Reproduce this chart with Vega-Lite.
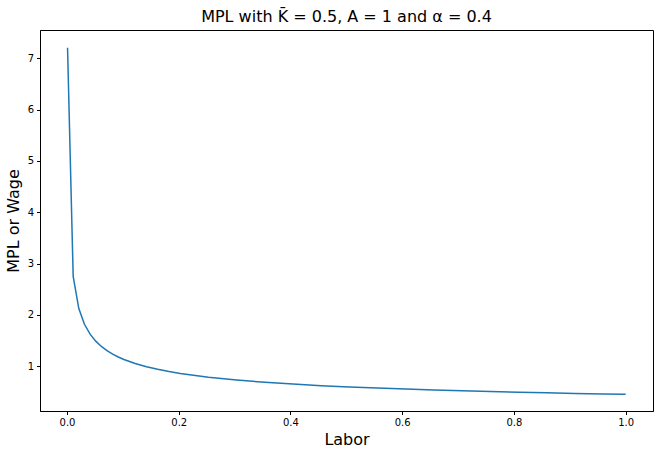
{
  "$schema": "https://vega.github.io/schema/vega-lite/v6.json",
  "autosize": "none",
  "width": 613,
  "height": 381,
  "padding": {"left": 40, "top": 30, "right": 7, "bottom": 43},
  "background": "white",
  "title": {
    "text": "MPL with K\u0304 = 0.5, A = 1 and α = 0.4",
    "fontSize": 16,
    "fontWeight": "normal",
    "font": "DejaVu Sans",
    "color": "black",
    "anchor": "middle",
    "offset": 5
  },
  "data": {
    "values": [
      {"labor": 0.001, "mpl": 7.2067},
      {"labor": 0.0110909, "mpl": 2.75265},
      {"labor": 0.0211818, "mpl": 2.12497},
      {"labor": 0.0312727, "mpl": 1.81833},
      {"labor": 0.0413636, "mpl": 1.62589},
      {"labor": 0.0514545, "mpl": 1.48995},
      {"labor": 0.0615455, "mpl": 1.38695},
      {"labor": 0.0716364, "mpl": 1.30523},
      {"labor": 0.0817273, "mpl": 1.23821},
      {"labor": 0.0918182, "mpl": 1.18186},
      {"labor": 0.1019091, "mpl": 1.13359},
      {"labor": 0.1220909, "mpl": 1.05455},
      {"labor": 0.1422727, "mpl": 0.99195},
      {"labor": 0.1624545, "mpl": 0.94069},
      {"labor": 0.1826364, "mpl": 0.89764},
      {"labor": 0.2028182, "mpl": 0.86079},
      {"labor": 0.2532727, "mpl": 0.7876},
      {"labor": 0.3037273, "mpl": 0.7324},
      {"labor": 0.3541818, "mpl": 0.68873},
      {"labor": 0.4046364, "mpl": 0.653},
      {"labor": 0.4550909, "mpl": 0.62302},
      {"labor": 0.5055455, "mpl": 0.59736},
      {"labor": 0.556, "mpl": 0.57506},
      {"labor": 0.6064545, "mpl": 0.55542},
      {"labor": 0.6569091, "mpl": 0.53795},
      {"labor": 0.7073636, "mpl": 0.52225},
      {"labor": 0.7578182, "mpl": 0.50806},
      {"labor": 0.8082727, "mpl": 0.49513},
      {"labor": 0.8587273, "mpl": 0.48328},
      {"labor": 0.9091818, "mpl": 0.47237},
      {"labor": 0.9596364, "mpl": 0.46227},
      {"labor": 1.0, "mpl": 0.45472}
    ]
  },
  "mark": {"type": "line", "color": "#1f77b4", "strokeWidth": 1.5},
  "encoding": {
    "x": {
      "field": "labor",
      "type": "quantitative",
      "title": "Labor",
      "scale": {"domain": [-0.0483, 1.0489], "nice": false, "zero": false},
      "axis": {"values": [0, 0.2, 0.4, 0.6, 0.8, 1.0], "format": ".1f", "titlePadding": 4}
    },
    "y": {
      "field": "mpl",
      "type": "quantitative",
      "title": "MPL or Wage",
      "scale": {"domain": [0.129, 7.552], "nice": false, "zero": false},
      "axis": {"values": [1, 2, 3, 4, 5, 6, 7], "format": "d", "titlePadding": 6}
    }
  },
  "config": {
    "font": "DejaVu Sans",
    "view": {"stroke": "black", "strokeWidth": 1},
    "axis": {
      "grid": false,
      "domainColor": "black",
      "tickColor": "black",
      "tickSize": 3.5,
      "labelFontSize": 10,
      "labelColor": "black",
      "labelPadding": 3,
      "labelFont": "DejaVu Sans",
      "titleFont": "DejaVu Sans",
      "titleFontSize": 16,
      "titleFontWeight": "normal",
      "titleColor": "black"
    }
  }
}
